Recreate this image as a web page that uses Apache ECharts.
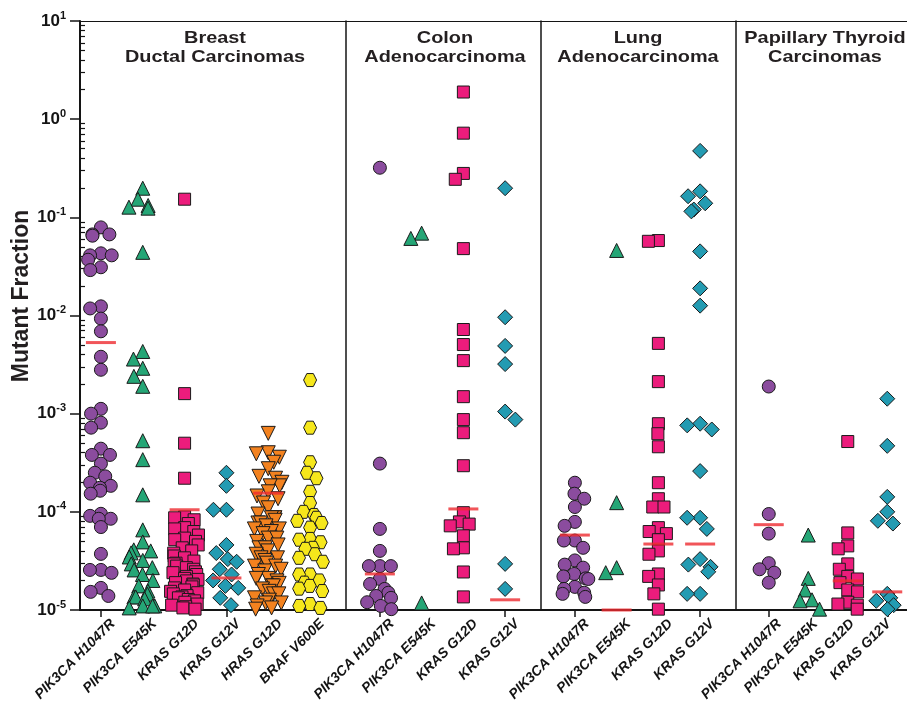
<!DOCTYPE html>
<html><head><meta charset="utf-8">
<script src="https://cdn.jsdelivr.net/npm/echarts@6/dist/echarts.min.js"></script>
<style>html,body{margin:0;padding:0;background:#fff}#c{width:907px;height:704px}</style>
</head><body><div id="c"></div>
<script>
// ---------------- data ----------------
const breastCats = ['PIK3CA H1047R','PIK3CA E545K','KRAS G12D','KRAS G12V','HRAS G12D','BRAF V600E'];
const colonCats = ['PIK3CA H1047R','PIK3CA E545K','KRAS G12D','KRAS G12V'];
const lungCats = ['PIK3CA H1047R','PIK3CA E545K','KRAS G12D','KRAS G12V'];
const thyroidCats = ['PIK3CA H1047R','PIK3CA E545K','KRAS G12D','KRAS G12V'];
const groupTitles = ['Breast\nDuctal Carcinomas','Colon\nAdenocarcinoma','Lung\nAdenocarcinoma','Papillary Thyroid\nCarcinomas'];
const yTitle = 'Mutant Fraction';
const yMajorTicks = [1e-5,1e-4,1e-3,1e-2,1e-1,1,10];

const breastH1047R = [0.079,0.067,0.067,0.065,0.043,0.041,0.041,0.037,0.031,0.029,0.0124,0.0118,0.0093,0.0069,0.0038,0.0028,0.00112,0.0010,0.00081,0.00072,0.00044,0.00038,0.00038,0.00031,0.00025,0.00023,0.000198,0.000184,0.000176,0.000164,0.000153,0.0000955,0.000091,0.000085,0.000085,0.000070,0.0000373,0.0000256,0.0000256,0.0000239,0.0000168,0.0000153,0.0000139];
const breastE545K = [0.198,0.153,0.132,0.127,0.124,0.044,0.0043,0.0036,0.0029,0.0024,0.0019,0.00053,0.00034,0.000149,0.0000655,0.0000494,0.000041,0.000040,0.0000382,0.0000347,0.000032,0.0000295,0.000027,0.0000256,0.000023,0.000020,0.0000176,0.0000156,0.0000145,0.0000136,0.0000136,0.000013,0.000011,0.000011,0.000011,0.0000105];
const breastG12D = [0.153,0.0016,0.0005,0.00022,0.000089,0.000087,0.000083,0.000076,0.000069,0.000067,0.000063,0.000058,0.000054,0.000052,0.000050,0.000046,0.000043,0.000040,0.000038,0.0000355,0.000034,0.0000315,0.000030,0.0000295,0.000028,0.000027,0.000026,0.0000245,0.000024,0.000023,0.000022,0.000021,0.0000205,0.0000198,0.000019,0.0000184,0.000018,0.0000172,0.0000168,0.000016,0.0000155,0.000015,0.0000146,0.000014,0.0000136,0.0000133,0.0000128,0.0000124,0.000012,0.0000115,0.0000112,0.0000108,0.0000105,0.0000102];
const breastG12V = [0.00025,0.000184,0.000105,0.000105,0.000046,0.000038,0.000033,0.000031,0.000026,0.000023,0.000020,0.0000176,0.0000168,0.0000133,0.0000112];
const breastHRAS = [0.00063,0.00040,0.00039,0.00036,0.00032,0.000275,0.00023,0.00022,0.00020,0.000184,0.000184,0.00016,0.000145,0.000136,0.000123,0.00011,0.000095,0.000087,0.000087,0.000087,0.000082,0.000077,0.000077,0.000072,0.000067,0.000067,0.000063,0.000060,0.000054,0.000054,0.000050,0.000046,0.000043,0.000043,0.000040,0.000037,0.000034,0.000034,0.000032,0.000030,0.000028,0.000028,0.000026,0.000025,0.000023,0.000021,0.000021,0.0000198,0.0000187,0.0000176,0.0000176,0.0000164,0.0000155,0.0000146,0.0000146,0.0000133,0.0000126,0.0000118,0.0000118,0.000011,0.0000105,0.0000102];
const breastBRAF = [0.0022,0.00072,0.00032,0.00025,0.00022,0.00016,0.000123,0.00010,0.000093,0.000087,0.000081,0.000077,0.000069,0.000053,0.000052,0.000049,0.000043,0.000042,0.000037,0.000034,0.000031,0.000023,0.000023,0.000020,0.000019,0.0000176,0.0000165,0.0000156,0.0000115,0.000011,0.0000105];
const breastMedians = [0.0053,null,0.000105,0.0000212,0.000155,null];

const colonH1047R = [0.32,0.00031,0.000067,0.000040,0.000028,0.000028,0.000028,0.0000207,0.0000184,0.0000164,0.000015,0.0000139,0.0000133,0.000012,0.000011,0.0000102];
const colonE545K = [0.069,0.061,0.0000118];
const colonG12D = [1.89,0.72,0.28,0.244,0.048,0.0072,0.00506,0.00347,0.00149,0.00087,0.00064,0.000295,0.000098,0.000079,0.000075,0.000072,0.000057,0.000043,0.000042,0.0000244,0.0000136];
const colonG12V = [0.198,0.0096,0.0049,0.0032,0.00105,0.00087,0.0000295,0.0000164];
const colonMedians = [0.0000233,null,0.000107,0.0000127];

const lungH1047R = [0.000198,0.000153,0.000136,0.000112,0.000079,0.000072,0.000051,0.000051,0.000043,0.000032,0.000029,0.000027,0.0000233,0.000022,0.000021,0.0000207,0.0000172,0.0000164,0.000015,0.0000146,0.0000136];
const lungE545K = [0.046,0.000124,0.000027,0.000024];
const lungG12D = [0.058,0.057,0.0052,0.00212,0.00079,0.000625,0.00046,0.000198,0.000136,0.000112,0.000112,0.000069,0.000063,0.000060,0.000052,0.000040,0.000037,0.0000233,0.000022,0.000018,0.0000146,0.0000102];
const lungG12V = [0.475,0.184,0.164,0.139,0.12,0.115,0.045,0.0189,0.0126,0.00079,0.00076,0.00069,0.00026,0.000087,0.000087,0.000067,0.000033,0.000029,0.0000275,0.0000245,0.0000146,0.0000146];
const lungMedians = [0.000058,0.00001,0.000047,0.000047];

const thyroidH1047R = [0.00189,0.000095,0.000060,0.000030,0.000026,0.000024,0.000019];
const thyroidE545K = [0.000058,0.000021,0.000016,0.0000127,0.0000124,0.0000102];
const thyroidG12D = [0.00052,0.000061,0.000045,0.000042,0.0000295,0.000026,0.000022,0.0000207,0.000019,0.000016,0.0000153,0.000012,0.0000115,0.0000112,0.0000102];
const thyroidG12V = [0.00142,0.00047,0.000142,0.00010,0.000081,0.000076,0.0000146,0.0000133,0.0000124,0.0000112,0.0000102];
const thyroidMedians = [0.000074,null,0.0000198,0.0000153];

// ---------------- styling / layout ----------------
const hexPath = 'path://M0,5 L3,0 L9,0 L12,5 L9,10 L3,10 Z';
const markStyles = {
  'PIK3CA H1047R': {symbol:'circle', size:13, rotate:0, color:'#8b4c9e'},
  'PIK3CA E545K': {symbol:'triangle', size:14, rotate:0, color:'#25a676'},
  'KRAS G12D': {symbol:'rect', size:12, rotate:0, color:'#ec1c7c'},
  'KRAS G12V': {symbol:'diamond', size:15, rotate:0, color:'#239bb2'},
  'HRAS G12D': {symbol:'triangle', size:14, rotate:180, color:'#f3821f'},
  'BRAF V600E': {symbol:hexPath, size:13, rotate:0, color:'#f6e71b'}
};
const groups = [
  {cats: breastCats, values: [breastH1047R,breastE545K,breastG12D,breastG12V,breastHRAS,breastBRAF], medians: breastMedians},
  {cats: colonCats, values: [colonH1047R,colonE545K,colonG12D,colonG12V], medians: colonMedians},
  {cats: lungCats, values: [lungH1047R,lungE545K,lungG12D,lungG12V], medians: lungMedians},
  {cats: thyroidCats, values: [thyroidH1047R,thyroidE545K,thyroidG12D,thyroidG12V], medians: thyroidMedians}
];
const gridBoxes = [{left:80,width:251},{left:359,width:167},{left:554,width:167},{left:749,width:167}];
const titleCenters = [215,445,638,825];
const LABEL_DX = 12;
const TOP = 21, BOTTOM = 94;
const FONT = '"Liberation Sans", Arial, Helvetica, sans-serif';
const INK = '#141414';

const minorTicks = [];
for (let d = -5; d < 1; d++) for (let k = 2; k <= 9; k++) minorTicks.push(k * Math.pow(10, d));

const grid = [], xAxis = [], yAxis = [], series = [];
groups.forEach((g, i) => {
  grid.push({left: gridBoxes[i].left, width: gridBoxes[i].width, top: TOP, bottom: BOTTOM});
  xAxis.push({
    type:'category', gridIndex:i, data:g.cats,
    jitter: 30, jitterOverlap: false, jitterMargin: -2,
    axisLine:{show:false},
    axisTick:{show:true, alignWithLabel:true, length:7, lineStyle:{color:INK, width:1.5}},
    axisLabel:{show:false},
    splitLine:{show:false}
  });
  xAxis.push({type:'category', gridIndex:i, data:g.cats, show:false});
  yAxis.push({
    type:'log', gridIndex:i, min:1e-5, max:10, logBase:10,
    offset: 13,
    axisLine:{show: i > 0, lineStyle:{color:INK, width:1.5}},
    axisTick:{show:false}, axisLabel:{show:false}, splitLine:{show:false}, minorTick:{show:false}
  });
  g.cats.forEach((c, j) => {
    const st = markStyles[c];
    series.push({
      type:'scatter', name: c, xAxisIndex: 2*i, yAxisIndex: i,
      data: g.values[j].map(v => [c, v]),
      symbol: st.symbol, symbolSize: st.size, symbolRotate: st.rotate,
      itemStyle:{color: st.color, borderColor:'#1a1a1a', borderWidth:1, opacity:1},
      clip:false, z:2, silent:true, animation:false
    });
  });
  series.push({
    type:'scatter', name:'median', xAxisIndex: 2*i+1, yAxisIndex: i,
    data: g.medians.map((m, j) => m == null ? null : [g.cats[j], m]).filter(d => d),
    symbol:'rect', symbolSize:[30,3],
    itemStyle:{color:'#ee2a30'}, clip:false, z:6, silent:true, animation:false
  });
});
// frame grid (index 4)
grid.push({left:80, right:-30, top:TOP, bottom:BOTTOM});
xAxis.push({type:'value', gridIndex:4, min:0, max:1, position:'bottom',
  axisLine:{show:true, onZero:false, lineStyle:{color:INK, width:2}}, axisTick:{show:false}, axisLabel:{show:false}, splitLine:{show:false}});
xAxis.push({type:'value', gridIndex:4, min:0, max:1, position:'top',
  axisLine:{show:true, onZero:false, lineStyle:{color:INK, width:1.2}}, axisTick:{show:false}, axisLabel:{show:false}, splitLine:{show:false}});
yAxis.push({type:'log', gridIndex:4, min:1e-5, max:10, logBase:10,
  axisLine:{show:true, lineStyle:{color:INK, width:2}},
  axisTick:{show:true, length:10, customValues: yMajorTicks, lineStyle:{color:INK, width:1.5}},
  axisLabel:{show:true, customValues: yMajorTicks, margin:14,
    formatter: v => '{b|10}{s|' + Math.round(Math.log10(v)) + '}',
    rich:{
      b:{fontSize:17, fontWeight:'bold', fontFamily:FONT, color:INK, lineHeight:22},
      s:{fontSize:11, fontWeight:'bold', fontFamily:FONT, color:INK, lineHeight:12, verticalAlign:'top'}
    }},
  splitLine:{show:false}});
yAxis.push({type:'log', gridIndex:4, min:1e-5, max:10, logBase:10,
  axisLine:{show:false},
  axisTick:{show:true, length:5, customValues: minorTicks, lineStyle:{color:INK, width:1.2}},
  axisLabel:{show:false}, splitLine:{show:false}});
series.push({type:'scatter', xAxisIndex:8, yAxisIndex:4, data:[], silent:true});

// label grids (index 5..8): same categories, labels only, nudged right like the reference
groups.forEach((g, i) => {
  const gi = 5 + i;
  grid.push({left: gridBoxes[i].left + LABEL_DX, width: gridBoxes[i].width, top: TOP, bottom: BOTTOM});
  xAxis.push({type:'category', gridIndex:gi, data:g.cats,
    axisLine:{show:false}, axisTick:{show:false}, splitLine:{show:false},
    axisLabel:{interval:0, rotate:45, margin:19, color:INK, fontSize:14, fontWeight:'bold', fontStyle:'italic', fontFamily:FONT}});
  yAxis.push({type:'value', gridIndex:gi, show:false});
});

const graphic = [];
groupTitles.forEach((t, i) => {
  graphic.push({type:'text', x: titleCenters[i], y: 29, scaleX: 1.17, z: 10,
    style:{text:t, fill:'#231f20', font:'bold 17px ' + FONT, align:'center', verticalAlign:'top', lineHeight:19}});
});
graphic.push({type:'text', x:22, y:296, rotation: Math.PI/2, z:10,
  style:{text:yTitle, fill:'#231f20', font:'bold 23px ' + FONT, align:'center', verticalAlign:'middle'}});

const chart = echarts.init(document.getElementById('c'), null, {renderer:'canvas'});
chart.setOption({animation:false, backgroundColor:'#fff', grid, xAxis, yAxis, series, graphic});
</script></body></html>
